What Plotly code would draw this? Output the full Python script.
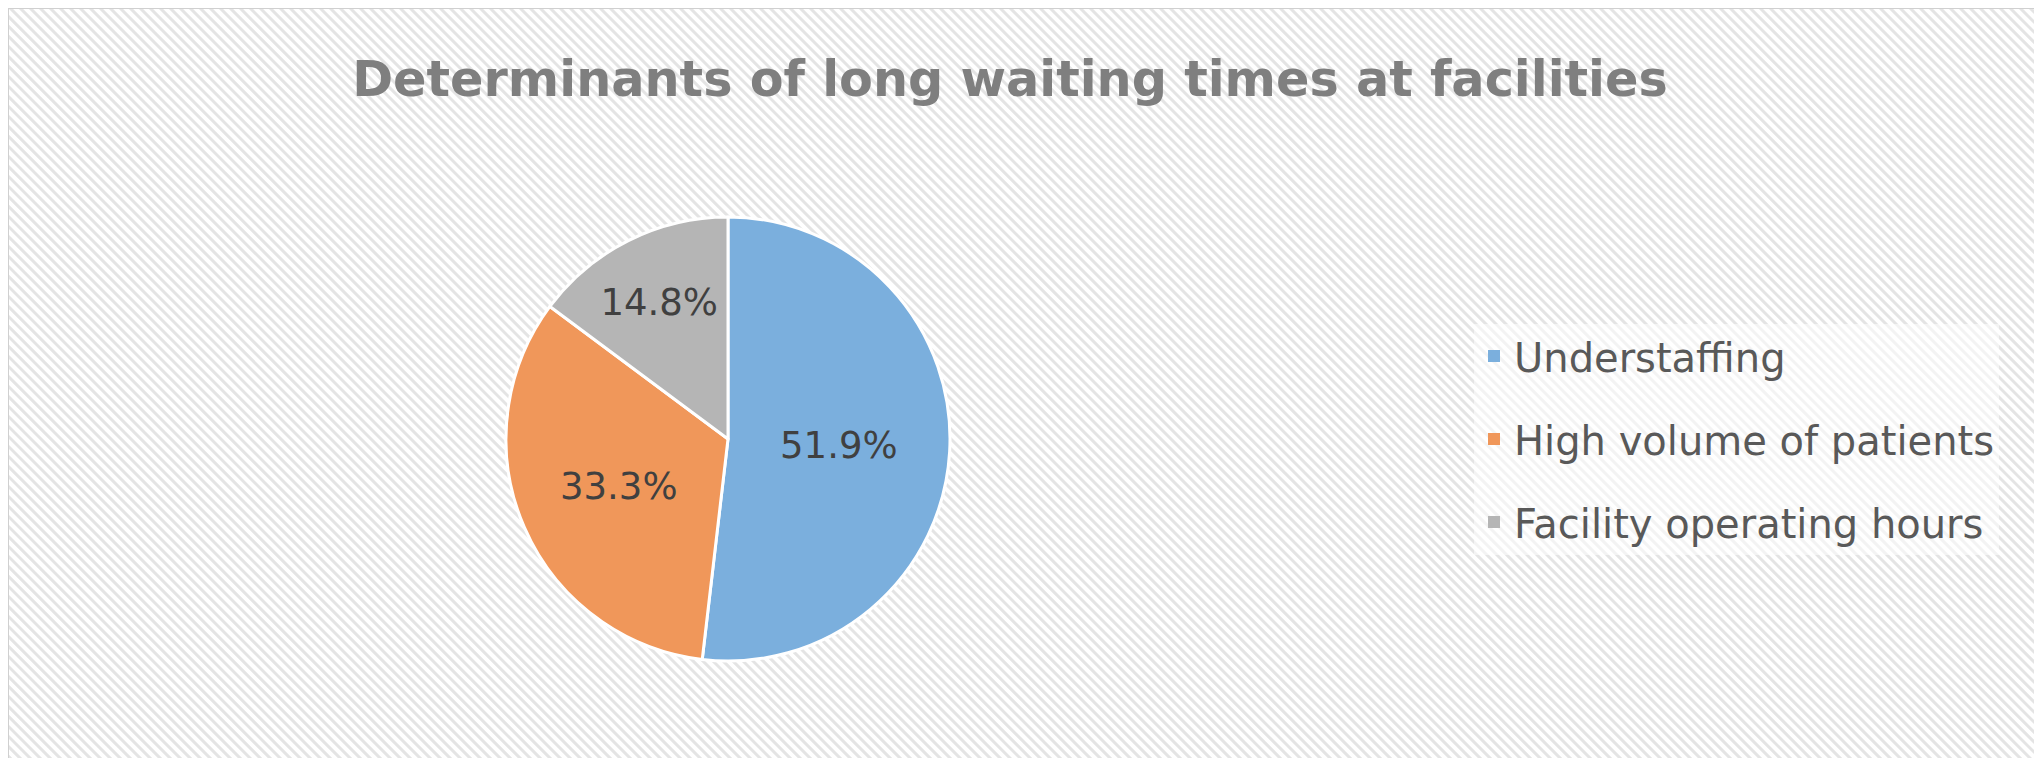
import plotly.graph_objects as go

# ---- data ----
categories = ["Understaffing", "High volume of patients", "Facility operating hours"]
values = [14, 9, 4]
colors = ["#7bafdd", "#f0975a", "#b5b5b5"]
title_text = "Determinants of long waiting times at facilities"

W, H = 2042, 758
cx, cy, r = 720, 431, 222

fig = go.Figure()

fig.add_trace(go.Pie(
    labels=categories,
    values=values,
    sort=False,
    direction="clockwise",
    rotation=0,
    marker=dict(colors=colors, line=dict(color="white", width=3)),
    texttemplate="%{percent:.1%}",
    textposition="inside",
    insidetextorientation="horizontal",
    textfont=dict(family="DejaVu Sans", size=37, color="#404040"),
    domain=dict(x=[(cx - r) / W, (cx + r) / W], y=[(H - cy - r) / H, (H - cy + r) / H]),
    showlegend=False,
    hoverinfo="label+percent",
))

# legend entries (one group each so they can be spaced apart)
for i, (c, col) in enumerate(zip(categories, colors)):
    fig.add_trace(go.Scatter(
        x=[None], y=[None], mode="markers", name=c,
        marker=dict(symbol="square", size=13, color=col),
        legendgroup=f"g{i}", showlegend=True,
    ))

# diagonal stripe background
period = 10
segs = []
x = -H
while x < W + period:
    segs.append(f"M{x / W:.5f},1 L{(x + H) / W:.5f},0")
    x += period
shapes = [
    dict(type="path", xref="paper", yref="paper", path=" ".join(segs),
         line=dict(color="#e4e4e4", width=3), layer="below"),
    dict(type="rect", xref="paper", yref="paper", x0=0, y0=0, x1=1, y1=1,
         line=dict(color="#d0d0d0", width=2), layer="below"),
]

fig.update_layout(
    width=W, height=H,
    margin=dict(l=0, r=0, t=0, b=0),
    paper_bgcolor="white",
    plot_bgcolor="rgba(0,0,0,0)",
    xaxis=dict(visible=False),
    yaxis=dict(visible=False),
    shapes=shapes,
    title=dict(
        text=f"<b>{title_text}</b>",
        x=1002 / W, xanchor="center",
        y=1 - 71 / H, yanchor="middle",
        font=dict(family="DejaVu Sans", size=49.3, color="#7f7f7f"),
    ),
    legend=dict(
        x=(1492 - 26) / W, xanchor="left",
        y=1 - 431 / H, yanchor="middle",
        font=dict(family="DejaVu Sans", size=40, color="#595959"),
        bgcolor="rgba(255,255,255,0.55)",
        tracegroupgap=28,
        itemsizing="constant",
    ),
)

fig.write_html("out.html")
